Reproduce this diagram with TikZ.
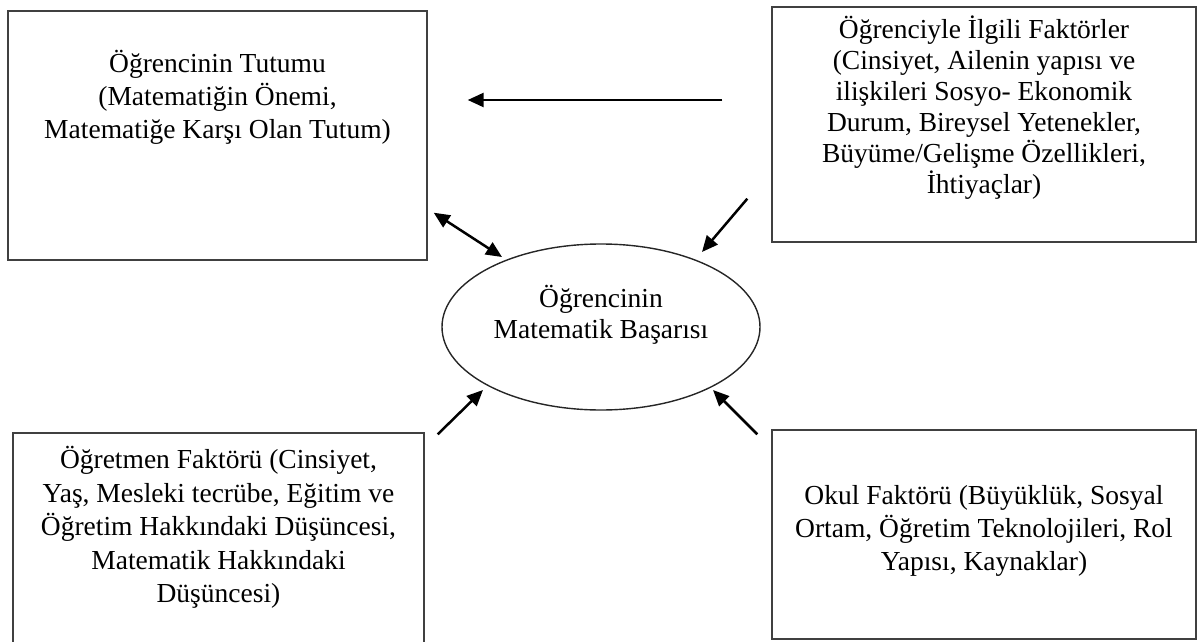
\documentclass[tikz,border=0pt]{standalone}
\usepackage{fontspec}
\setmainfont{Liberation Serif}
\usetikzlibrary{arrows.meta,shapes.geometric,positioning}

\tikzset{
  kutu/.style={draw=black!75, line width=1.4pt, rectangle, inner sep=0pt},
  elips/.style={draw=black!85, line width=1.4pt, ellipse, inner sep=0pt,
    minimum width=318pt, minimum height=166pt},
  yazi/.style={align=center, inner sep=0pt, font=\fontsize{27.5}{#1}\selectfont},
  yazi/.default=32,
  ok/.style={line width=2.5pt, -{Triangle[length=16pt,width=14pt]}},
  ciftok/.style={line width=2.5pt, {Triangle[length=16pt,width=14pt]}-{Triangle[length=16pt,width=14pt]}},
}

\begin{document}
\begin{tikzpicture}[x=1pt,y=-1pt]
    \useasboundingbox (0,0) rectangle (1200,642);
    % kutular
    \node[kutu, minimum width=419pt, minimum height=249pt] (tutum) at (217.5,135.5) {};
    \node[kutu, minimum width=424pt, minimum height=235pt] (ogrenci) at (984,124.5) {};
    \node[kutu, minimum width=411pt, minimum height=217pt] (ogretmen) at (218.5,541.5) {};
    \node[kutu, minimum width=424pt, minimum height=209pt] (okul) at (984,534.5) {};
    \node[elips] (basari) at (601,327) {};
    % metinler
    \node[yazi=33, below=40pt of tutum.north] (tutumyazi)
        {Öğrencinin Tutumu\\(Matematiğin Önemi,\\Matematiğe Karşı Olan Tutum)};
    \node[yazi=31, below=9pt of ogrenci.north] (ogrenciyazi)
        {Öğrenciyle İlgili Faktörler\\(Cinsiyet, Ailenin yapısı ve\\ilişkileri Sosyo- Ekonomik\\Durum, Bireysel Yetenekler,\\Büyüme/Gelişme Özellikleri,\\İhtiyaçlar)};
    \node[yazi=33.5, below=14pt of ogretmen.north] (ogretmenyazi)
        {Öğretmen Faktörü (Cinsiyet,\\Yaş, Mesleki tecrübe, Eğitim ve\\Öğretim Hakkındaki Düşüncesi,\\Matematik Hakkındaki\\Düşüncesi)};
    \node[yazi=33, below=56pt of okul.north] (okulyazi)
        {Okul Faktörü (Büyüklük, Sosyal\\Ortam, Öğretim Teknolojileri, Rol\\Yapısı, Kaynaklar)};
    \node[yazi=31] (basariyazi) at ([yshift=12pt]basari.center)
        {Öğrencinin\\Matematik Başarısı};
    % oklar
    \draw[ok] ([shift={(-49,-24.5)}]ogrenci.west) -- ([shift={(40,-35.5)}]tutum.east);
    \draw[ciftok] ([shift={(6,-48)}]tutum.south east) -- ([shift={(-99,-70)}]basari.center);
    \draw[ok] ([shift={(-24,-44)}]ogrenci.south west) -- ([shift={(101,-75)}]basari.center);
    \draw[ok] ([shift={(13,2)}]ogretmen.north east) -- ([shift={(-118,63)}]basari.center);
    \draw[ok] ([shift={(-14,5)}]okul.north west) -- ([shift={(112,63)}]basari.center);
\end{tikzpicture}
\end{document}
